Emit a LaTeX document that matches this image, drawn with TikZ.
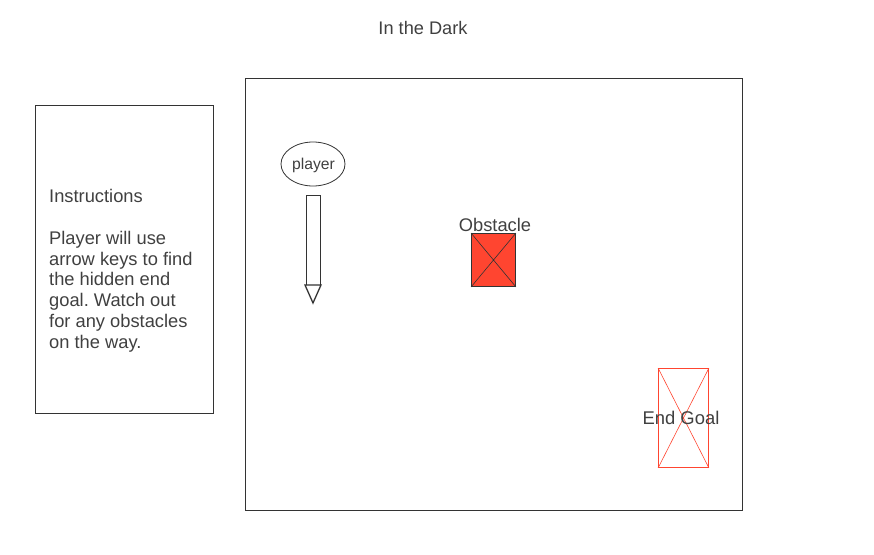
\documentclass[tikz,border=0pt]{standalone}
\usepackage{fontspec}
\setmainfont{Liberation Sans}
\usetikzlibrary{shapes.geometric}
\definecolor{ink}{HTML}{333333}
\definecolor{txt}{HTML}{404040}
\definecolor{redx}{HTML}{FF4530}
\frenchspacing
\begin{document}
\begin{tikzpicture}[x=1pt,y=-1pt,
  frame/.style={draw=ink,line width=0.8pt},
  lbl/.style={text=txt,inner sep=0pt,anchor=base},
  lbll/.style={text=txt,inner sep=0pt,anchor=base west,font=\fontsize{18.3}{20}\selectfont}]
\useasboundingbox (0,0) rectangle (874,554);
\node[lbl,font=\fontsize{18.2}{20}\selectfont] (title) at (423,34) {In the Dark};
% instructions
\node[frame,minimum width=178pt,minimum height=308pt,inner sep=0pt] (instr) at (124.5,259.5) {};
\node[lbll] (l0) at (49,202) {Instructions};
\node[lbll] (l1) at (49,244.3) {Player will use};
\node[lbll] (l2) at (49,265) {arrow keys to find};
\node[lbll] (l3) at (49,285.8) {the hidden end};
\node[lbll] (l4) at (49,306.6) {goal. Watch out};
\node[lbll] (l5) at (49,327.4) {for any obstacles};
\node[lbll] (l6) at (49,348.2) {on the way.};
% main box
\node[frame,minimum width=497pt,minimum height=432pt,inner sep=0pt] (main) at (494,294.5) {};
% player
\node[draw=ink,line width=0.8pt,ellipse,minimum width=64pt,minimum height=44pt,inner sep=0pt] (player) at (313,164) {};
\node[lbl,font=\fontsize{15.7}{18}\selectfont] (playerl) at (313.5,169.5) {player};
\coordinate (s1) at (306,195);
\coordinate (s2) at (320,195);
\coordinate (s3) at (320,285);
\coordinate (s4) at (306,285);
\coordinate (t1) at (305,285);
\coordinate (t2) at (313,303);
\coordinate (t3) at (321,285);
\draw[draw=ink,line width=0.8pt] (s4) -- (s1) -- (s2) -- (s3);
\draw[draw=ink,line width=1.3pt,line join=miter] (t1) -- (t2) -- (t3) -- cycle;
% obstacle
\node[draw=ink,fill=redx,line width=0.8pt,minimum width=44pt,minimum height=53pt,inner sep=0pt] (obs) at (493.5,260) {};
\draw[draw=ink,line width=0.6pt] (obs.north west) -- (obs.south east) (obs.north east) -- (obs.south west);
\node[lbl,font=\fontsize{18.3}{20}\selectfont] (obsl) at (495,231) {Obstacle};
% end goal
\node[draw=redx,line width=0.8pt,minimum width=50pt,minimum height=99pt,inner sep=0pt] (goal) at (683.5,418) {};
\draw[draw=redx,line width=0.6pt] (goal.north west) -- (goal.south east) (goal.north east) -- (goal.south west);
\node[lbl,font=\fontsize{18.4}{20}\selectfont] (goall) at (681,424) {End Goal};
\end{tikzpicture}
\end{document}
